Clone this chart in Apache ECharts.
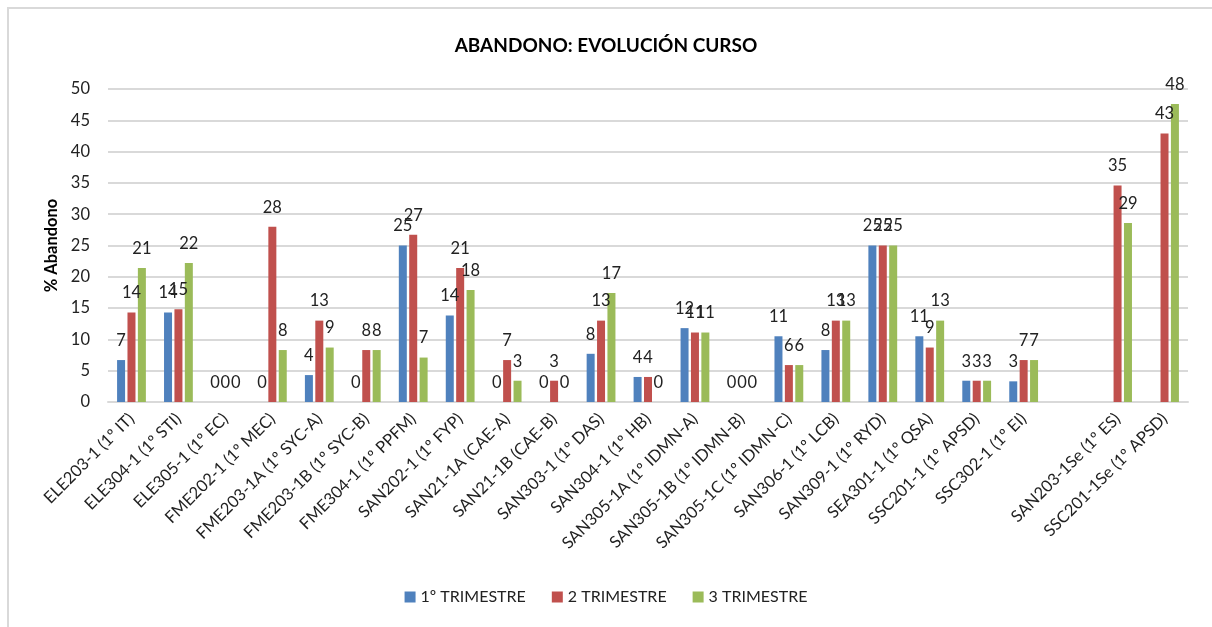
<!DOCTYPE html>
<html>
<head>
<meta charset="utf-8">
<script src="https://cdn.jsdelivr.net/npm/echarts@6/dist/echarts.min.js"></script>
<style>html,body{margin:0;padding:0;background:#fff;}#c{width:1212px;height:627px;}</style>
</head>
<body>
<div id="c"></div>
<script>
const categories = [
  'ELE203-1 (1º IT)', 'ELE304-1 (1º STI)', 'ELE305-1 (1º EC)', 'FME202-1 (1º MEC)',
  'FME203-1A (1º SYC-A)', 'FME203-1B (1º SYC-B)', 'FME304-1 (1º PPFM)', 'SAN202-1 (1º FYP)',
  'SAN21-1A (CAE-A)', 'SAN21-1B (CAE-B)', 'SAN303-1 (1º DAS)', 'SAN304-1 (1º HB)',
  'SAN305-1A (1º IDMN-A)', 'SAN305-1B (1º IDMN-B)', 'SAN305-1C (1º IDMN-C)', 'SAN306-1 (1º LCB)',
  'SAN309-1 (1º RYD)', 'SEA301-1 (1º QSA)', 'SSC201-1 (1º APSD)', 'SSC302-1 (1º EI)',
  '', 'SAN203-1Se (1º ES)', 'SSC201-1Se (1º APSD)'
];
const seriesNames = ['1º TRIMESTRE', '2 TRIMESTRE', '3 TRIMESTRE'];
const trim1 = [6.7, 14.3, 0, 0, 4.3, 0, 25.0, 13.8, 0, 0, 7.7, 4.0, 11.8, 0, 10.5, 8.3, 25.0, 10.5, 3.4, 3.3, null, null, null];
const trim2 = [14.3, 14.8, 0, 28.0, 13.0, 8.3, 26.7, 21.4, 6.7, 3.4, 13.0, 4.0, 11.1, 0, 5.9, 13.0, 25.0, 8.7, 3.4, 6.7, null, 34.6, 42.9];
const trim3 = [21.4, 22.2, 0, 8.3, 8.7, 8.3, 7.1, 17.9, 3.4, 0, 17.4, 0, 11.1, 0, 5.9, 13.0, 25.0, 13.0, 3.4, 6.7, null, 28.6, 47.6];
const yTicks = [0, 50, 5];
const colors = ['#4F81BD', '#C0504D', '#9BBB59'];

const FONT = 'Lato, "Open Sans", sans-serif';
const chart = echarts.init(document.getElementById('c'), null, {renderer: 'canvas'});
const mk = (name, data, color) => ({
  name, type: 'bar', data,
  barWidth: 8, barGap: '30%',
  itemStyle: {color},
  label: {
    show: true, position: 'top', distance: 11,
    color: '#222', fontSize: 16.5, fontFamily: FONT,
    formatter: p => (p.value == null ? '' : String(Math.round(p.value)))
  }
});
chart.setOption({
  animation: false,
  backgroundColor: '#fff',
  graphic: [{
    type: 'rect', shape: {x: 8, y: 8, width: 1400, height: 800},
    style: {fill: 'none', stroke: '#d9d9d9', lineWidth: 2}, silent: true
  }],
  title: {
    text: 'ABANDONO: EVOLUCIÓN CURSO', left: 'center', top: 31,
    textStyle: {fontSize: 19, fontWeight: 'bold', color: '#000', fontFamily: FONT}
  },
  legend: {
    bottom: 17, left: 'center', itemWidth: 11, itemHeight: 11, itemGap: 26,
    icon: 'rect',
    textStyle: {fontSize: 16, color: '#222', fontFamily: FONT}
  },
  grid: {left: 108, right: 24, top: 89, bottom: 225, containLabel: false},
  xAxis: {
    type: 'category', data: categories,
    axisLine: {lineStyle: {color: '#d9d9d9', width: 2}},
    axisTick: {show: false},
    axisLabel: {interval: 0, rotate: 45, fontSize: 16.5, color: '#222', fontFamily: FONT, margin: 14}
  },
  yAxis: {
    type: 'value', min: yTicks[0], max: yTicks[1], interval: yTicks[2],
    name: '% Abandono', nameLocation: 'middle', nameGap: 46, nameRotate: 90,
    nameTextStyle: {fontSize: 16.5, fontWeight: 'bold', color: '#000', fontFamily: FONT},
    axisLine: {show: false}, axisTick: {show: false},
    axisLabel: {fontSize: 16.5, color: '#222', fontFamily: FONT, margin: 18},
    splitLine: {lineStyle: {color: '#d9d9d9', width: 2}}
  },
  series: [mk(seriesNames[0], trim1, colors[0]), mk(seriesNames[1], trim2, colors[1]), mk(seriesNames[2], trim3, colors[2])]
});
</script>
</body>
</html>
